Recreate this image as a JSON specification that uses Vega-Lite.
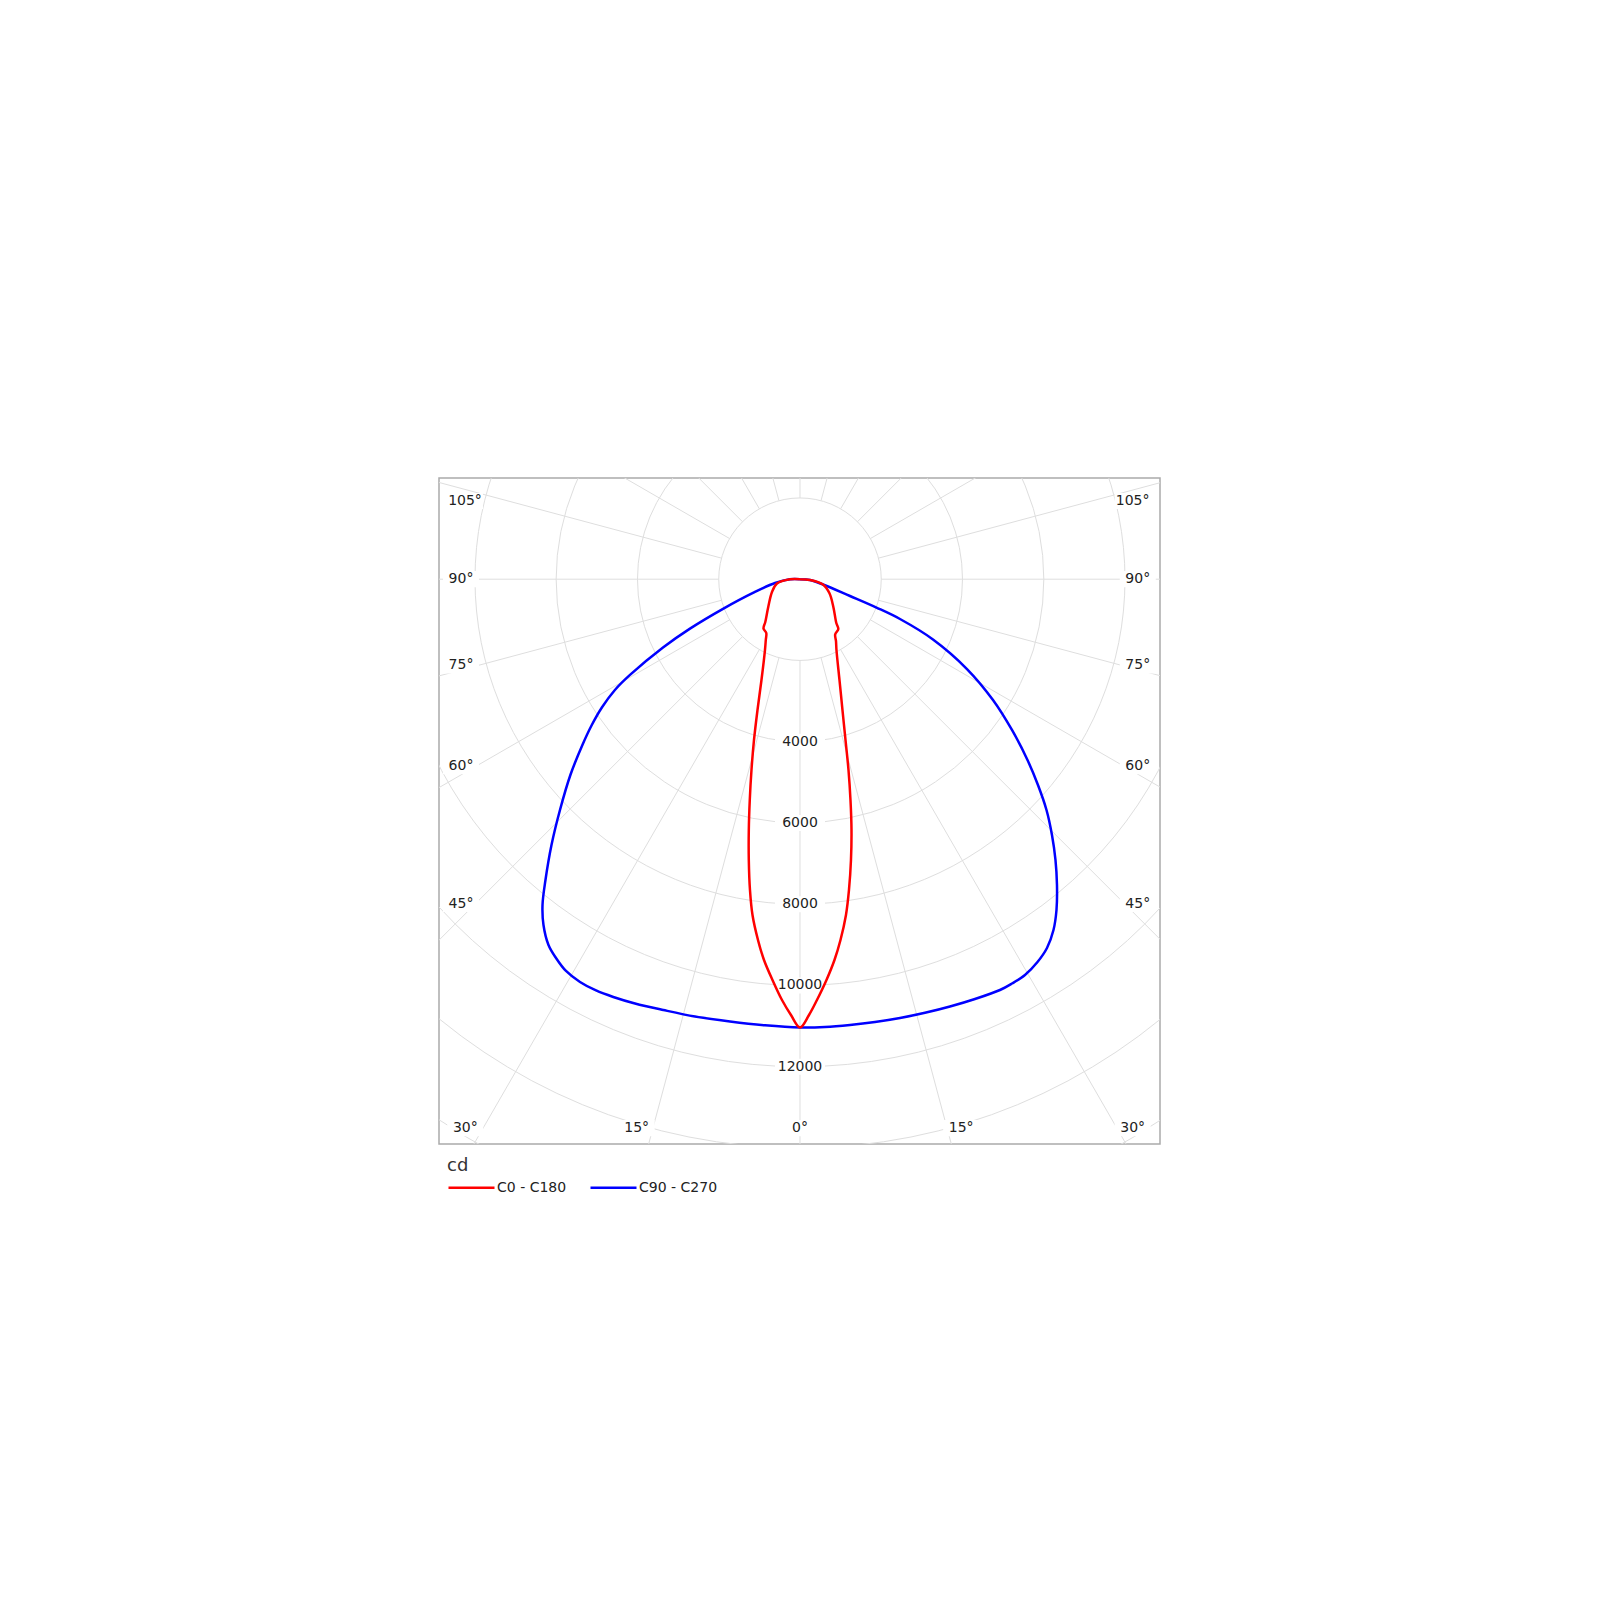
{
  "$schema": "https://vega.github.io/schema/vega-lite/v6.json",
  "width": 721,
  "height": 666,
  "autosize": "none",
  "padding": {"left": 439, "top": 478, "right": 440, "bottom": 456},
  "background": "white",
  "config": {"view": {"stroke": "#ababab", "strokeWidth": 1.5}, "font": "DejaVu Sans"},
  "datasets": {
    "rings": [{"r": 2000}, {"r": 4000}, {"r": 6000}, {"r": 8000}, {"r": 10000}, {"r": 12000}, {"r": 14000}, {"r": 16000}],
    "spokes": [
      {"x1": 0, "y1": -2000, "x2": 0, "y2": -20000},
      {"x1": 518, "y1": -1932, "x2": 5176, "y2": -19319},
      {"x1": -518, "y1": -1932, "x2": -5176, "y2": -19319},
      {"x1": 1000, "y1": -1732, "x2": 10000, "y2": -17321},
      {"x1": -1000, "y1": -1732, "x2": -10000, "y2": -17321},
      {"x1": 1414, "y1": -1414, "x2": 14142, "y2": -14142},
      {"x1": -1414, "y1": -1414, "x2": -14142, "y2": -14142},
      {"x1": 1732, "y1": -1000, "x2": 17321, "y2": -10000},
      {"x1": -1732, "y1": -1000, "x2": -17321, "y2": -10000},
      {"x1": 1932, "y1": -518, "x2": 19319, "y2": -5176},
      {"x1": -1932, "y1": -518, "x2": -19319, "y2": -5176},
      {"x1": 2000, "y1": 0, "x2": 20000, "y2": 0},
      {"x1": -2000, "y1": 0, "x2": -20000, "y2": 0},
      {"x1": 1932, "y1": 518, "x2": 19319, "y2": 5176},
      {"x1": -1932, "y1": 518, "x2": -19319, "y2": 5176},
      {"x1": 1732, "y1": 1000, "x2": 17321, "y2": 10000},
      {"x1": -1732, "y1": 1000, "x2": -17321, "y2": 10000},
      {"x1": 1414, "y1": 1414, "x2": 14142, "y2": 14142},
      {"x1": -1414, "y1": 1414, "x2": -14142, "y2": 14142},
      {"x1": 1000, "y1": 1732, "x2": 10000, "y2": 17321},
      {"x1": -1000, "y1": 1732, "x2": -10000, "y2": 17321},
      {"x1": 518, "y1": 1932, "x2": 5176, "y2": 19319},
      {"x1": -518, "y1": 1932, "x2": -5176, "y2": 19319},
      {"x1": 0, "y1": 2000, "x2": 0, "y2": 20000}
    ],
    "ringLabels": [
      {"t": "4000", "x": 0, "y": -4000},
      {"t": "6000", "x": 0, "y": -6000},
      {"t": "8000", "x": 0, "y": -8000},
      {"t": "10000", "x": 0, "y": -10000},
      {"t": "12000", "x": 0, "y": -12000}
    ],
    "angleLabels": [
      {"t": "105°", "x": -8246, "y": 1925},
      {"t": "90°", "x": -8344, "y": 0},
      {"t": "75°", "x": -8344, "y": -2119},
      {"t": "60°", "x": -8344, "y": -4605},
      {"t": "45°", "x": -8344, "y": -7995},
      {"t": "30°", "x": -8239, "y": -13510},
      {"t": "15°", "x": -4020, "y": -13510},
      {"t": "0°", "x": 0, "y": -13510},
      {"t": "15°", "x": 3968, "y": -13510},
      {"t": "30°", "x": 8189, "y": -13510},
      {"t": "45°", "x": 8315, "y": -7995},
      {"t": "60°", "x": 8315, "y": -4605},
      {"t": "75°", "x": 8315, "y": -2119},
      {"t": "90°", "x": 8315, "y": 0},
      {"t": "105°", "x": 8189, "y": 1925}
    ],
    "curves": [
      {"series": "C90 - C270", "i": 0, "x": 0, "y": 0},
      {"series": "C90 - C270", "i": 1, "x": -246, "y": -2},
      {"series": "C90 - C270", "i": 2, "x": -615, "y": -94},
      {"series": "C90 - C270", "i": 3, "x": -1157, "y": -337},
      {"series": "C90 - C270", "i": 4, "x": -1895, "y": -729},
      {"series": "C90 - C270", "i": 5, "x": -2708, "y": -1216},
      {"series": "C90 - C270", "i": 6, "x": -3372, "y": -1681},
      {"series": "C90 - C270", "i": 7, "x": -4185, "y": -2356},
      {"series": "C90 - C270", "i": 8, "x": -4556, "y": -2727},
      {"series": "C90 - C270", "i": 9, "x": -4869, "y": -3146},
      {"series": "C90 - C270", "i": 10, "x": -5125, "y": -3589},
      {"series": "C90 - C270", "i": 11, "x": -5356, "y": -4081},
      {"series": "C90 - C270", "i": 12, "x": -5652, "y": -4820},
      {"series": "C90 - C270", "i": 13, "x": -5908, "y": -5681},
      {"series": "C90 - C270", "i": 14, "x": -6117, "y": -6543},
      {"series": "C90 - C270", "i": 15, "x": -6265, "y": -7404},
      {"series": "C90 - C270", "i": 16, "x": -6338, "y": -8019},
      {"series": "C90 - C270", "i": 17, "x": -6314, "y": -8512},
      {"series": "C90 - C270", "i": 18, "x": -6191, "y": -9004},
      {"series": "C90 - C270", "i": 19, "x": -6006, "y": -9324},
      {"series": "C90 - C270", "i": 20, "x": -5760, "y": -9644},
      {"series": "C90 - C270", "i": 21, "x": -5415, "y": -9915},
      {"series": "C90 - C270", "i": 22, "x": -5021, "y": -10124},
      {"series": "C90 - C270", "i": 23, "x": -4596, "y": -10284},
      {"series": "C90 - C270", "i": 24, "x": -4061, "y": -10444},
      {"series": "C90 - C270", "i": 25, "x": -3365, "y": -10604},
      {"series": "C90 - C270", "i": 26, "x": -2585, "y": -10764},
      {"series": "C90 - C270", "i": 27, "x": -1723, "y": -10887},
      {"series": "C90 - C270", "i": 28, "x": -862, "y": -10981},
      {"series": "C90 - C270", "i": 29, "x": 0, "y": -11035},
      {"series": "C90 - C270", "i": 30, "x": 615, "y": -11023},
      {"series": "C90 - C270", "i": 31, "x": 1231, "y": -10973},
      {"series": "C90 - C270", "i": 32, "x": 1846, "y": -10900},
      {"series": "C90 - C270", "i": 33, "x": 2462, "y": -10801},
      {"series": "C90 - C270", "i": 34, "x": 3077, "y": -10673},
      {"series": "C90 - C270", "i": 35, "x": 3692, "y": -10518},
      {"series": "C90 - C270", "i": 36, "x": 4308, "y": -10333},
      {"series": "C90 - C270", "i": 37, "x": 4923, "y": -10112},
      {"series": "C90 - C270", "i": 38, "x": 5218, "y": -9952},
      {"series": "C90 - C270", "i": 39, "x": 5538, "y": -9743},
      {"series": "C90 - C270", "i": 40, "x": 5846, "y": -9423},
      {"series": "C90 - C270", "i": 41, "x": 6080, "y": -9078},
      {"series": "C90 - C270", "i": 42, "x": 6240, "y": -8635},
      {"series": "C90 - C270", "i": 43, "x": 6314, "y": -8143},
      {"series": "C90 - C270", "i": 44, "x": 6326, "y": -7527},
      {"series": "C90 - C270", "i": 45, "x": 6289, "y": -6912},
      {"series": "C90 - C270", "i": 46, "x": 6203, "y": -6297},
      {"series": "C90 - C270", "i": 47, "x": 6068, "y": -5681},
      {"series": "C90 - C270", "i": 48, "x": 5858, "y": -5066},
      {"series": "C90 - C270", "i": 49, "x": 5600, "y": -4450},
      {"series": "C90 - C270", "i": 50, "x": 5218, "y": -3712},
      {"series": "C90 - C270", "i": 51, "x": 4751, "y": -2974},
      {"series": "C90 - C270", "i": 52, "x": 4111, "y": -2211},
      {"series": "C90 - C270", "i": 53, "x": 3274, "y": -1484},
      {"series": "C90 - C270", "i": 54, "x": 2462, "y": -980},
      {"series": "C90 - C270", "i": 55, "x": 1895, "y": -704},
      {"series": "C90 - C270", "i": 56, "x": 1231, "y": -414},
      {"series": "C90 - C270", "i": 57, "x": 566, "y": -130},
      {"series": "C90 - C270", "i": 58, "x": 246, "y": -20},
      {"series": "C90 - C270", "i": 59, "x": 0, "y": 0},
      {"series": "C0 - C180", "i": 0, "x": 0, "y": 0},
      {"series": "C0 - C180", "i": 1, "x": -246, "y": -2},
      {"series": "C0 - C180", "i": 2, "x": -566, "y": -106},
      {"series": "C0 - C180", "i": 3, "x": -689, "y": -315},
      {"series": "C0 - C180", "i": 4, "x": -780, "y": -677},
      {"series": "C0 - C180", "i": 5, "x": -854, "y": -1054},
      {"series": "C0 - C180", "i": 6, "x": -898, "y": -1214},
      {"series": "C0 - C180", "i": 7, "x": -830, "y": -1324},
      {"series": "C0 - C180", "i": 8, "x": -842, "y": -1497},
      {"series": "C0 - C180", "i": 9, "x": -862, "y": -1743},
      {"series": "C0 - C180", "i": 10, "x": -948, "y": -2481},
      {"series": "C0 - C180", "i": 11, "x": -1046, "y": -3220},
      {"series": "C0 - C180", "i": 12, "x": -1132, "y": -3958},
      {"series": "C0 - C180", "i": 13, "x": -1194, "y": -4697},
      {"series": "C0 - C180", "i": 14, "x": -1236, "y": -5435},
      {"series": "C0 - C180", "i": 15, "x": -1260, "y": -6173},
      {"series": "C0 - C180", "i": 16, "x": -1260, "y": -6912},
      {"series": "C0 - C180", "i": 17, "x": -1231, "y": -7650},
      {"series": "C0 - C180", "i": 18, "x": -1169, "y": -8266},
      {"series": "C0 - C180", "i": 19, "x": -1034, "y": -8881},
      {"series": "C0 - C180", "i": 20, "x": -886, "y": -9373},
      {"series": "C0 - C180", "i": 21, "x": -677, "y": -9865},
      {"series": "C0 - C180", "i": 22, "x": -443, "y": -10358},
      {"series": "C0 - C180", "i": 23, "x": -222, "y": -10727},
      {"series": "C0 - C180", "i": 24, "x": 0, "y": -11035},
      {"series": "C0 - C180", "i": 25, "x": 222, "y": -10727},
      {"series": "C0 - C180", "i": 26, "x": 418, "y": -10358},
      {"series": "C0 - C180", "i": 27, "x": 652, "y": -9865},
      {"series": "C0 - C180", "i": 28, "x": 849, "y": -9373},
      {"series": "C0 - C180", "i": 29, "x": 997, "y": -8881},
      {"series": "C0 - C180", "i": 30, "x": 1132, "y": -8266},
      {"series": "C0 - C180", "i": 31, "x": 1206, "y": -7650},
      {"series": "C0 - C180", "i": 32, "x": 1255, "y": -6912},
      {"series": "C0 - C180", "i": 33, "x": 1268, "y": -6173},
      {"series": "C0 - C180", "i": 34, "x": 1243, "y": -5435},
      {"series": "C0 - C180", "i": 35, "x": 1194, "y": -4697},
      {"series": "C0 - C180", "i": 36, "x": 1120, "y": -3958},
      {"series": "C0 - C180", "i": 37, "x": 1046, "y": -3220},
      {"series": "C0 - C180", "i": 38, "x": 972, "y": -2481},
      {"series": "C0 - C180", "i": 39, "x": 898, "y": -1743},
      {"series": "C0 - C180", "i": 40, "x": 886, "y": -1521},
      {"series": "C0 - C180", "i": 41, "x": 866, "y": -1361},
      {"series": "C0 - C180", "i": 42, "x": 943, "y": -1226},
      {"series": "C0 - C180", "i": 43, "x": 894, "y": -1078},
      {"series": "C0 - C180", "i": 44, "x": 820, "y": -677},
      {"series": "C0 - C180", "i": 45, "x": 726, "y": -347},
      {"series": "C0 - C180", "i": 46, "x": 566, "y": -130},
      {"series": "C0 - C180", "i": 47, "x": 246, "y": -20},
      {"series": "C0 - C180", "i": 48, "x": 0, "y": 0}
    ]
  },
  "layer": [
    {
      "data": {"name": "rings"},
      "mark": {"type": "arc", "theta": 0, "theta2": 6.3, "filled": false, "stroke": "#dedede", "strokeWidth": 1, "clip": true},
      "encoding": {
        "x": {"datum": 0, "type": "quantitative", "scale": {"domain": [-8886, 8862], "nice": false, "zero": false}, "axis": null},
        "y": {"datum": 0, "type": "quantitative", "scale": {"domain": [-13903, 2491], "nice": false, "zero": false}, "axis": null},
        "radius": {"field": "r", "type": "quantitative", "stack": null, "scale": {"type": "linear", "domain": [0, 16000], "range": [0, 650], "zero": true}}
      }
    },
    {
      "data": {"name": "spokes"},
      "mark": {"type": "rule", "stroke": "#dedede", "strokeWidth": 1, "clip": true},
      "encoding": {
        "x": {"field": "x1", "type": "quantitative", "axis": null},
        "y": {"field": "y1", "type": "quantitative", "axis": null},
        "x2": {"field": "x2"},
        "y2": {"field": "y2"}
      }
    },
    {
      "data": {"name": "ringLabels"},
      "mark": {"type": "point", "shape": "M-1,-0.32H1V0.32H-1Z", "size": 2500, "filled": true, "color": "white", "opacity": 1, "strokeWidth": 0},
      "encoding": {
        "x": {"field": "x", "type": "quantitative", "axis": null},
        "y": {"field": "y", "type": "quantitative", "axis": null}
      }
    },
    {
      "data": {"name": "angleLabels"},
      "mark": {"type": "point", "shape": "M-1,-0.45H1V0.45H-1Z", "size": 1296, "filled": true, "color": "white", "opacity": 1, "strokeWidth": 0, "clip": true},
      "encoding": {
        "x": {"field": "x", "type": "quantitative", "axis": null},
        "y": {"field": "y", "type": "quantitative", "axis": null}
      }
    },
    {
      "data": {"name": "ringLabels"},
      "mark": {"type": "text", "fontSize": 14, "font": "DejaVu Sans", "color": "#222222", "align": "center", "baseline": "middle"},
      "encoding": {
        "x": {"field": "x", "type": "quantitative", "axis": null},
        "y": {"field": "y", "type": "quantitative", "axis": null},
        "text": {"field": "t"}
      }
    },
    {
      "data": {"name": "angleLabels"},
      "mark": {"type": "text", "fontSize": 14, "font": "DejaVu Sans", "color": "#222222", "align": "center", "baseline": "middle"},
      "encoding": {
        "x": {"field": "x", "type": "quantitative", "axis": null},
        "y": {"field": "y", "type": "quantitative", "axis": null},
        "text": {"field": "t"}
      }
    },
    {
      "data": {"name": "curves"},
      "mark": {"type": "line", "interpolate": "catmull-rom", "strokeWidth": 2.5},
      "encoding": {
        "x": {"field": "x", "type": "quantitative", "axis": null},
        "y": {"field": "y", "type": "quantitative", "axis": null},
        "order": {"field": "i", "type": "quantitative"},
        "color": {
          "field": "series",
          "type": "nominal",
          "scale": {"domain": ["C0 - C180", "C90 - C270"], "range": ["#ff0000", "#0000ff"]},
          "legend": {
            "orient": "none",
            "legendX": 8,
            "legendY": 679,
            "direction": "horizontal",
            "title": "cd",
            "titleFontSize": 18,
            "titleFontWeight": "normal",
            "titleColor": "#333333",
            "titleFont": "DejaVu Sans",
            "titlePadding": -12,
            "labelFontSize": 14,
            "labelFont": "DejaVu Sans",
            "labelColor": "#222222",
            "symbolType": "stroke",
            "symbolSize": 2116,
            "symbolStrokeWidth": 2.5,
            "symbolOffset": 0,
            "labelOffset": 1,
            "columnPadding": 18,
            "padding": 0
          }
        }
      }
    }
  ]
}
